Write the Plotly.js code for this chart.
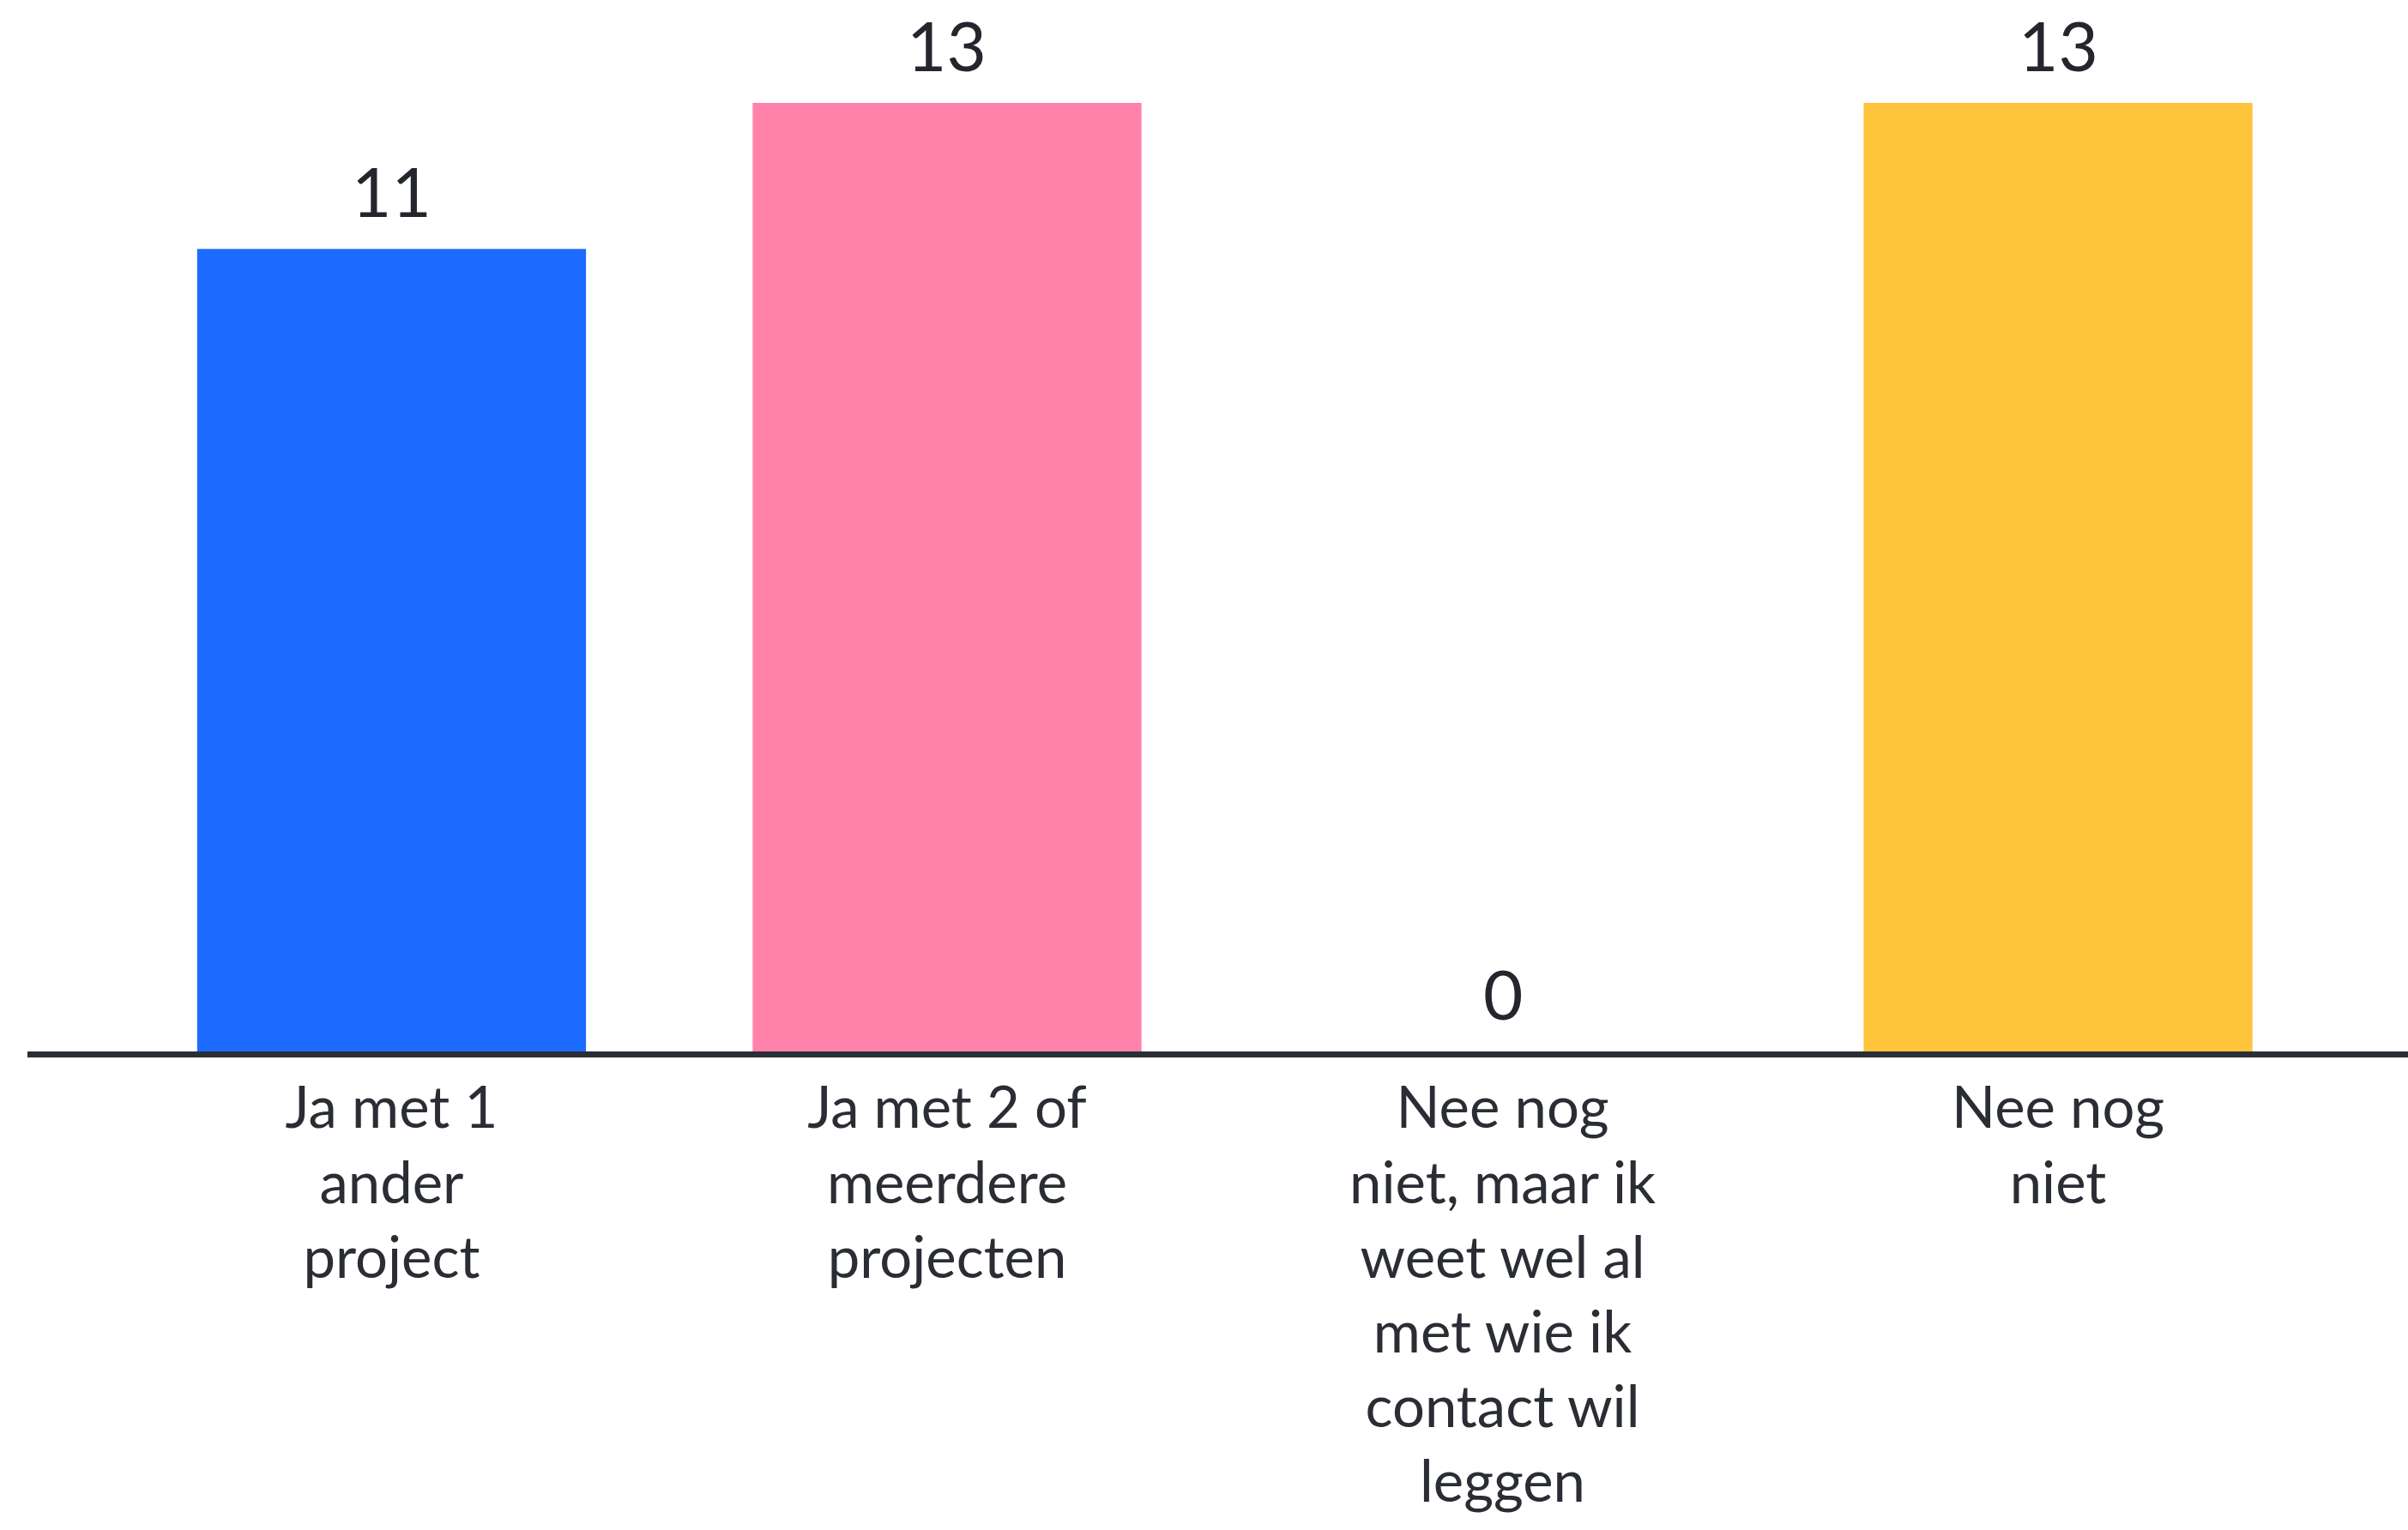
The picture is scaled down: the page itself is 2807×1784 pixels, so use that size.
<!DOCTYPE html>
<html>
<head>
<meta charset="utf-8">
<script src="https://cdn.plot.ly/plotly-3.0.1.min.js"></script>
<style>html,body{margin:0;padding:0;background:#fff;}#chart{width:2807px;height:1784px;}</style>
</head>
<body>
<div id="chart"></div>
<script>
const categories = [
  "Ja met 1<br>ander<br>project",
  "Ja met 2 of<br>meerdere<br>projecten",
  "Nee nog<br>niet, maar ik<br>weet wel al<br>met wie ik<br>contact wil<br>leggen",
  "Nee nog<br>niet"
];
const values = [11, 13, 0, 13];
const colors = ["#1d6bff", "#ff82aa", "#ffffff", "#fec43b"];

const trace = {
  type: "bar",
  x: categories,
  y: values,
  marker: {color: colors, line: {width: 0}},
  hoverinfo: "skip"
};

const annotations = categories.map((c, i) => ({
  x: c, y: values[i], xref: "x", yref: "y",
  text: String(values[i]),
  showarrow: false,
  yanchor: "bottom",
  yshift: 18,
  font: {family: "Lato, sans-serif", size: 80, color: "#23262d"}
}));

const layout = {
  width: 2807, height: 1784,
  margin: {l: 32, r: 0, t: 20, b: 558},
  paper_bgcolor: "#ffffff",
  plot_bgcolor: "#ffffff",
  showlegend: false,
  bargap: 0.3,
  xaxis: {
    type: "category",
    range: [-0.6555, 3.63],
    showline: true, linecolor: "#2a2e37", linewidth: 7,
    showgrid: false, zeroline: false, ticks: "",
    tickfont: {family: "Lato, sans-serif", size: 67, color: "#2a2d34"},
    ticklabelstandoff: 2,
    fixedrange: true
  },
  yaxis: {
    range: [0, 14.175],
    visible: false, showgrid: false, zeroline: false,
    fixedrange: true
  },
  annotations: annotations
};

Plotly.newPlot("chart", [trace], layout, {displayModeBar: false, staticPlot: true});
</script>
</body>
</html>
